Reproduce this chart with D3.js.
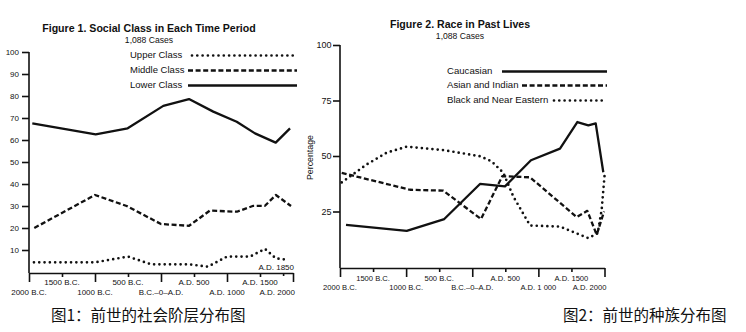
<!DOCTYPE html>
<html>
<head>
<meta charset="utf-8">
<script src="https://cdn.jsdelivr.net/npm/d3@7"></script>
<style>
body { margin: 0; background: #fff; }
svg { display: block; }
text { font-family: "Liberation Sans", Arial, sans-serif; fill: #111; }
text.cap { font-family: "Noto Sans CJK SC", sans-serif; }
</style>
</head>
<body>
<svg id="chart" width="746" height="332"></svg>
<script>
// Figure 1: social class, [year, percent]
var upperClass = [[-1925, 4.4], [-1000, 4.4], [-500, 7], [-150, 3.5], [425, 3.5], [710, 2.4],
    [1000, 7], [1350, 7], [1575, 10.5], [1740, 6.2], [1925, 5.5]];
var middleClass = [[-1920, 20], [-1000, 35], [-520, 30], [0, 21.8], [425, 21], [740, 27.9],
    [1150, 27.4], [1400, 30.1], [1575, 30.1], [1740, 35], [1970, 30]];
var lowerClass = [[-1950, 67.6], [-990, 62.6], [-505, 65.3], [35, 75.5], [424, 78.6], [792, 72.9],
    [1147, 68.3], [1424, 63], [1738, 58.8], [1955, 65.3]];

// Figure 2: race, [year, percent]
var caucasian = [[-1909, 19], [-991, 16.3], [-423, 21.6], [117, 37.4], [495, 36.3], [888, 48.1],
    [1327, 53.3], [1589, 65.3], [1756, 63.8], [1867, 64.7], [1982, 42.7]];
var asianIndian = [[-1974, 42.4], [-941, 34.8], [-438, 34.4], [132, 21.6], [454, 40.9], [874, 40.4],
    [1580, 22.5], [1740, 25.3], [1882, 14.5], [1993, 25]];
var blackNearEastern = [[-1974, 38.1], [-1596, 46.2], [-1294, 51.5], [-991, 54.2], [-423, 52.6],
    [117, 49.9], [293, 47.6], [470, 42.4], [620, 31.8], [874, 18.7], [1327, 18.2], [1755, 13],
    [1897, 15.2], [1957, 25.8], [2000, 40.9]];

var majorYears = [-2000, -1000, 0, 1000, 2000];
var minorYears = [-1500, -500, 500, 1500];
var upperRowLabels = [[-1500, "1500 B.C."], [-500, "500 B.C."], [500, "A.D. 500"], [1500, "A.D. 1500"]];
var lowerRowLabels1 = [[-2000, "2000 B.C."], [-1000, "1000 B.C."], [0, "B.C.–0–A.D."], [1000, "A.D. 1000"], [2000, "A.D. 2000"]];
var lowerRowLabels2 = [[-2000, "2000 B.C."], [-1000, "1000 B.C."], [0, "B.C.–0–A.D."], [1000, "A.D. 1 000"], [2000, "A.D. 2000"]];
var ticks1 = [10, 20, 30, 40, 50, 60, 70, 80, 90, 100];
var ticks2 = [25, 50, 75, 100];

var ink = "#111";
var svg = d3.select("#chart");

var styles = {
    solid: { width: 2.3, dash: null, cap: "butt" },
    dashed: { width: 2.3, dash: "5,2.6", cap: "butt" },
    dotted: { width: 2.7, dash: "0,5.3", cap: "round" }
};

function styleAxis(g, size) {
    g.selectAll("path, line").attr("stroke", ink).attr("stroke-width", 1.6);
    g.selectAll("text").style("font-size", size + "px").attr("fill", ink);
}

function drawPanel(p) {
    // time axis: long ticks each 1000 years, short ones between
    var gx = svg.append("g").attr("transform", "translate(0," + p.axisY + ")");
    gx.call(d3.axisBottom(p.x).tickValues(majorYears).tickSize(9).tickSizeOuter(0).tickFormat(""));
    gx.append("g").call(d3.axisBottom(p.x).tickValues(minorYears).tickSize(4).tickFormat(""))
        .select(".domain").remove();
    styleAxis(gx, p.xFont);

    svg.append("g").selectAll("text").data(upperRowLabels).enter().append("text")
        .attr("x", d => p.x(d[0]))
        .attr("y", p.upperRowY)
        .attr("text-anchor", "middle")
        .style("font-size", p.xFont + "px")
        .text(d => d[1]);

    svg.append("g").selectAll("text").data(p.lowerLabels).enter().append("text")
        .attr("x", d => d[0] === 2000 ? p.x(d[0]) + 2 : p.x(d[0]))
        .attr("y", p.lowerRowY)
        .attr("text-anchor", d => d[0] === 2000 ? "end" : "middle")
        .style("font-size", p.xFont + "px")
        .text(d => d[1]);

    var gy = svg.append("g").attr("transform", "translate(" + p.x(-2000) + ",0)");
    gy.call(d3.axisLeft(p.y).tickValues(p.yTicks).tickSize(7).tickPadding(p.yPad).tickSizeOuter(0));
    gy.select(".domain").attr("d", "M0," + p.axisY + "V" + p.y(100));
    styleAxis(gy, p.yFont);

    var line = d3.line().x(d => p.x(d[0])).y(d => p.y(d[1]));
    p.series.forEach(function (s) {
        var st = styles[s.style];
        svg.append("path")
            .datum(s.values)
            .attr("d", line)
            .attr("fill", "none")
            .attr("stroke", ink)
            .attr("stroke-width", st.width)
            .attr("stroke-linejoin", "round")
            .attr("stroke-linecap", st.cap)
            .attr("stroke-dasharray", st.dash);

        svg.append("text")
            .attr("x", p.legendX)
            .attr("y", s.ly + 3.5)
            .style("font-size", p.legendFont + "px")
            .text(s.name);
        svg.append("line")
            .attr("x1", s.lx).attr("x2", p.legendEnd)
            .attr("y1", s.ly + 1.5).attr("y2", s.ly + 1.5)
            .attr("stroke", ink)
            .attr("stroke-width", st.width)
            .attr("stroke-linecap", st.cap)
            .attr("stroke-dasharray", st.dash);
    });

    svg.append("text")
        .attr("x", p.titleX).attr("y", p.titleY)
        .attr("text-anchor", "middle")
        .style("font-size", "10.6px").style("font-weight", "bold")
        .text(p.title);
    svg.append("text")
        .attr("x", p.titleX).attr("y", p.titleY + 11)
        .attr("text-anchor", "middle")
        .style("font-size", "8.6px")
        .text("1,088 Cases");

    svg.append("text")
        .attr("class", "cap")
        .attr("x", p.capX).attr("y", 320.5)
        .style("font-size", "15.5px")
        .text(p.caption);
}

var x1 = d3.scaleLinear().domain([-2000, 2000]).range([29, 293]);
var y1 = d3.scaleLinear().domain([0, 100]).range([272, 52]);
var x2 = d3.scaleLinear().domain([-2000, 2000]).range([340, 604.5]);
var y2 = d3.scaleLinear().domain([0, 100]).range([267, 45]);

drawPanel({
    x: x1, y: y1, axisY: 273, yTicks: ticks1, yPad: 3, yFont: 8, xFont: 8,
    upperRowY: 285, lowerRowY: 295, lowerLabels: lowerRowLabels1,
    title: "Figure 1.  Social Class in Each Time Period", titleX: 149, titleY: 32,
    legendX: 130, legendEnd: 297, legendFont: 9.5,
    caption: "图1：前世的社会阶层分布图", capX: 51,
    series: [
        { name: "Upper Class", values: upperClass, style: "dotted", ly: 54, lx: 192 },
        { name: "Middle Class", values: middleClass, style: "dashed", ly: 69, lx: 188 },
        { name: "Lower Class", values: lowerClass, style: "solid", ly: 84, lx: 188 }
    ]
});

// the 1850 marker sits inside the first panel, a short tick under the axis
var g1850 = svg.append("g").attr("transform", "translate(0,273)");
g1850.call(d3.axisBottom(x1).tickValues([1850]).tickSize(3).tickFormat(""));
g1850.select(".domain").remove();
styleAxis(g1850, 8);
svg.append("text")
    .attr("x", x1(2000) + 1).attr("y", 269.5)
    .attr("text-anchor", "end")
    .style("font-size", "8px")
    .text("A.D. 1850");

drawPanel({
    x: x2, y: y2, axisY: 268, yTicks: ticks2, yPad: 1.5, yFont: 9, xFont: 7.6,
    upperRowY: 280.5, lowerRowY: 289.5, lowerLabels: lowerRowLabels2,
    title: "Figure 2.  Race in Past Lives", titleX: 460, titleY: 28,
    legendX: 447, legendEnd: 607, legendFont: 9.6,
    caption: "图2：前世的种族分布图", capX: 563,
    series: [
        { name: "Caucasian", values: caucasian, style: "solid", ly: 70, lx: 502 },
        { name: "Asian and Indian", values: asianIndian, style: "dashed", ly: 84, lx: 522 },
        { name: "Black and Near Eastern", values: blackNearEastern, style: "dotted", ly: 99, lx: 554 }
    ]
});

svg.append("text")
    .attr("transform", "translate(313,157.5) rotate(-90)")
    .attr("text-anchor", "middle")
    .style("font-size", "8.8px")
    .text("Percentage");
</script>
</body>
</html>
